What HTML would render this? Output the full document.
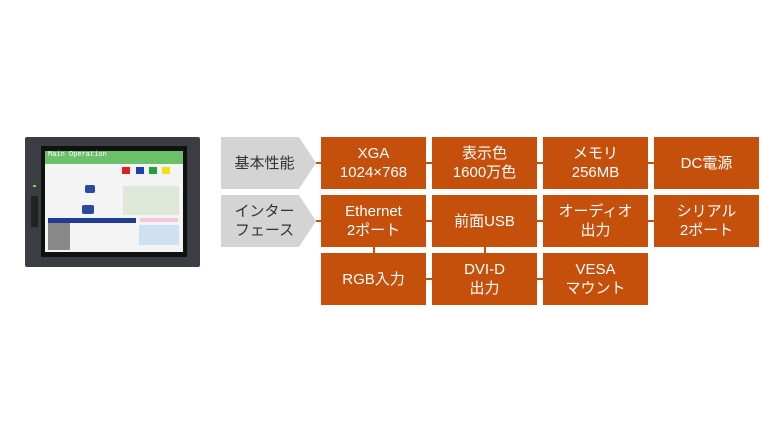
<!DOCTYPE html>
<html><head><meta charset="utf-8"><style>
body{margin:0;width:784px;height:441px;background:#fff;position:relative;overflow:hidden;font-family:"Liberation Sans","Noto Sans CJK JP",sans-serif}
.b{position:absolute;width:105px;height:52px;background:#c5500c;color:#fff;font-size:15px;line-height:19px;display:flex;align-items:center;justify-content:center;text-align:center}
.g{position:absolute;left:221px;width:95px;height:52px;background:#d4d4d4;color:#333;font-size:15px;line-height:19px;display:flex;align-items:center;justify-content:center;text-align:center;clip-path:polygon(0 0,82% 0,100% 50%,82% 100%,0 100%);padding-right:8px;box-sizing:border-box}
.h{position:absolute;height:2px;background:#c5500c}
.v{position:absolute;width:2px;background:#c5500c}
.a{position:absolute}
</style></head><body>
<div class="a" style="left:25px;top:137px;width:175px;height:130px;background:#3a3d42;border-radius:2px"></div>
<div class="a" style="left:41px;top:146px;width:146px;height:111px;background:#111"></div>
<div class="a" style="left:45px;top:151px;width:138px;height:101px;background:#f4f4f4"></div>
<div class="a" style="left:45px;top:151px;width:138px;height:13px;background:#6cc06a;color:#fff;font:7px 'Liberation Mono',monospace;padding-left:3px;box-sizing:border-box">Main Operation</div>
<div class="a" style="left:122px;top:167px;width:8px;height:7px;background:#e02020"></div>
<div class="a" style="left:136px;top:167px;width:8px;height:7px;background:#2040b0"></div>
<div class="a" style="left:149px;top:167px;width:8px;height:7px;background:#20a040"></div>
<div class="a" style="left:162px;top:167px;width:8px;height:7px;background:#f0e020"></div>
<div class="a" style="left:123px;top:186px;width:56px;height:29px;background:#dfe8d8"></div>
<div class="a" style="left:85px;top:185px;width:10px;height:8px;background:#2a4aa0;border-radius:2px"></div>
<div class="a" style="left:82px;top:205px;width:12px;height:9px;background:#2a4aa0;border-radius:2px"></div>
<div class="a" style="left:48px;top:218px;width:88px;height:5px;background:#1e3c96"></div>
<div class="a" style="left:48px;top:223px;width:22px;height:27px;background:#888"></div>
<div class="a" style="left:139px;top:225px;width:40px;height:20px;background:#cfe0f0"></div>
<div class="a" style="left:140px;top:218px;width:38px;height:4px;background:#f3c6d8"></div>
<div class="a" style="left:33px;top:185px;width:3px;height:2px;background:#9c3"></div>
<div class="a" style="left:31px;top:196px;width:7px;height:31px;background:#222"></div>

<div class="g" style="top:137px">基本性能</div>
<div class="g" style="top:195px">インター<br>フェース</div>

<div class="h" style="left:316px;top:162px;width:5px"></div>
<div class="h" style="left:316px;top:220px;width:5px"></div>
<div class="h" style="left:426px;top:162px;width:6px"></div>
<div class="h" style="left:537px;top:162px;width:6px"></div>
<div class="h" style="left:648px;top:162px;width:6px"></div>
<div class="h" style="left:426px;top:220px;width:6px"></div>
<div class="h" style="left:537px;top:220px;width:6px"></div>
<div class="h" style="left:648px;top:220px;width:6px"></div>
<div class="h" style="left:426px;top:278px;width:6px"></div>
<div class="h" style="left:537px;top:278px;width:6px"></div>
<div class="v" style="left:373px;top:247px;height:6px"></div>
<div class="v" style="left:484px;top:247px;height:6px"></div>

<div class="b" style="left:321px;top:137px">XGA<br>1024×768</div>
<div class="b" style="left:432px;top:137px">表示色<br>1600万色</div>
<div class="b" style="left:543px;top:137px">メモリ<br>256MB</div>
<div class="b" style="left:654px;top:137px">DC電源</div>
<div class="b" style="left:321px;top:195px">Ethernet<br>2ポート</div>
<div class="b" style="left:432px;top:195px">前面USB</div>
<div class="b" style="left:543px;top:195px">オーディオ<br>出力</div>
<div class="b" style="left:654px;top:195px">シリアル<br>2ポート</div>
<div class="b" style="left:321px;top:253px">RGB入力</div>
<div class="b" style="left:432px;top:253px">DVI-D<br>出力</div>
<div class="b" style="left:543px;top:253px">VESA<br>マウント</div>
</body></html>
